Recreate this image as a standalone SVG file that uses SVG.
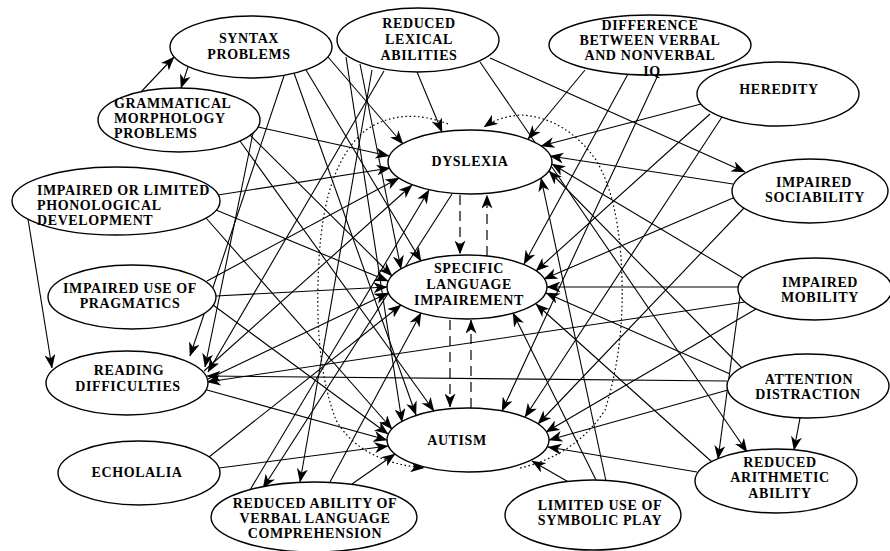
<svg xmlns="http://www.w3.org/2000/svg" width="890" height="551" viewBox="0 0 890 551">
<defs>
<marker id="ah" viewBox="0 0 14 11" refX="13.5" refY="5.5" markerWidth="14" markerHeight="11" markerUnits="userSpaceOnUse" orient="auto">
<path d="M0,0 L14,5.5 L0,11 L4,5.5 z" fill="#000"/>
</marker>
</defs>
<style>
.c line, .c path { stroke:#000; stroke-width:1.1; fill:none; marker-end:url(#ah); }
.c .dash { stroke-dasharray:10,6; stroke-width:1.2; }
.c .dot { stroke-dasharray:1.6,2.6; stroke-width:1.2; }
.n ellipse { fill:#fff; stroke:#000; stroke-width:1.4; }
.n text { font-family:"Liberation Serif","Times New Roman",serif; font-weight:bold; font-size:14px; letter-spacing:0.6px; fill:#000; text-anchor:middle; }
.n text.l { text-anchor:start; }
</style>
<rect width="890" height="551" fill="#fff"/>
<g id="connectors" class="c">
<!-- SYNTAX -->
<line x1="188" y1="67" x2="181" y2="88"/>
<line x1="140" y1="93" x2="174" y2="57"/>
<line x1="328" y1="57" x2="403" y2="144"/>
<line x1="306" y1="70" x2="421" y2="261"/>
<line x1="294" y1="73" x2="416" y2="415"/>
<line x1="284" y1="76" x2="190" y2="356"/>
<!-- GRAMMATICAL -->
<line x1="258" y1="127" x2="389" y2="156"/>
<line x1="250" y1="135" x2="392" y2="276"/>
<line x1="240" y1="141" x2="434" y2="411"/>
<line x1="253" y1="133" x2="205" y2="367"/>
<!-- LEXICAL -->
<line x1="417" y1="72" x2="442" y2="132"/>
<line x1="490" y1="58" x2="745" y2="172"/>
<line x1="360" y1="64" x2="401" y2="269"/>
<line x1="346" y1="57" x2="402" y2="422"/>
<line x1="384" y1="71" x2="208" y2="372"/>
<line x1="372" y1="70" x2="300" y2="482"/>
<line x1="480" y1="62" x2="747" y2="452"/>
<!-- DIFFERENCE IQ -->
<line x1="585" y1="70" x2="528" y2="139"/>
<line x1="628" y1="74" x2="524" y2="264"/>
<line x1="658" y1="75" x2="502" y2="411"/>
<!-- HEREDITY -->
<line x1="701" y1="104" x2="541" y2="146"/>
<line x1="710" y1="114" x2="536" y2="271"/>
<line x1="722" y1="117" x2="525" y2="417"/>
<!-- SOCIABILITY -->
<line x1="733" y1="184" x2="550" y2="156"/>
<line x1="733" y1="198" x2="544" y2="279"/>
<line x1="744" y1="208" x2="538" y2="424"/>
<!-- MOBILITY -->
<line x1="743" y1="278" x2="552" y2="164"/>
<line x1="738" y1="287" x2="547" y2="287"/>
<line x1="745" y1="302" x2="207" y2="382"/>
<line x1="740" y1="296" x2="718" y2="459"/>
<line x1="756" y1="309" x2="546" y2="432"/>
<!-- ATTENTION -->
<line x1="742" y1="368" x2="549" y2="171"/>
<line x1="730" y1="374" x2="546" y2="293"/>
<line x1="727" y1="381" x2="207" y2="376"/>
<line x1="728" y1="390" x2="549" y2="440"/>
<line x1="800" y1="418" x2="794" y2="450"/>
<!-- ARITHMETIC -->
<line x1="712" y1="462" x2="536" y2="304"/>
<line x1="697" y1="472" x2="548" y2="447"/>
<!-- SYMBOLIC PLAY -->
<line x1="572" y1="484" x2="532" y2="461"/>
<line x1="596" y1="480" x2="513" y2="313"/>
<line x1="606" y1="481" x2="541" y2="178"/>
<!-- COMPREHENSION -->
<line x1="352" y1="484" x2="395" y2="454"/>
<line x1="330" y1="482" x2="421" y2="313"/>
<line x1="250" y1="490" x2="429" y2="190"/>
<line x1="452" y1="194" x2="263" y2="488"/>
<!-- ECHOLALIA -->
<line x1="209" y1="457" x2="401" y2="305"/>
<line x1="219" y1="468" x2="388" y2="446"/>
<!-- READING -->
<line x1="204" y1="371" x2="412" y2="185"/>
<line x1="208" y1="379" x2="388" y2="293"/>
<line x1="207" y1="390" x2="387" y2="440"/>
<!-- PRAGMATICS -->
<line x1="207" y1="281" x2="399" y2="178"/>
<line x1="216" y1="296" x2="387" y2="287"/>
<line x1="213" y1="305" x2="388" y2="434"/>
<!-- PHONOLOGICAL -->
<line x1="218" y1="195" x2="390" y2="168"/>
<line x1="216" y1="210" x2="388" y2="281"/>
<line x1="206" y1="218" x2="392" y2="429"/>
<line x1="28" y1="219" x2="52" y2="368"/>
<!-- disorders -->
<line class="dash" x1="460" y1="195" x2="460" y2="254"/>
<line class="dash" x1="487" y1="256" x2="487" y2="195"/>
<line class="dash" x1="450" y1="320" x2="450" y2="407"/>
<line class="dash" x1="471" y1="408" x2="471" y2="320"/>
<path class="dot" d="M448,124 Q402,106 366,130 Q324,164 319,260 Q313,360 336,420 Q360,462 424,468"/>
<path class="dot" d="M520,468 Q576,455 605,410 Q624,350 622,280 Q620,200 596,160 Q566,118 522,115 Q500,116 484,127"/>
</g>
<g id="syntax" class="n"><ellipse cx="251" cy="47" rx="81" ry="31"/><text x="249" y="43">SYNTAX</text><text x="249" y="59">PROBLEMS</text></g>
<g id="grammatical" class="n"><ellipse cx="179" cy="120" rx="81" ry="32"/><text class="l" x="114" y="108">GRAMMATICAL</text><text class="l" x="114" y="123">MORPHOLOGY</text><text class="l" x="114" y="138">PROBLEMS</text></g>
<g id="lexical" class="n"><ellipse cx="418" cy="40" rx="81" ry="32"/><text x="419" y="28">REDUCED</text><text x="419" y="44">LEXICAL</text><text x="419" y="60">ABILITIES</text></g>
<g id="difference" class="n"><ellipse cx="650" cy="45" rx="101" ry="30"/><text x="650" y="30">DIFFERENCE</text><text x="650" y="45">BETWEEN VERBAL</text><text x="650" y="60">AND NONVERBAL</text><text x="652" y="76">IQ</text></g>
<g id="heredity" class="n"><ellipse cx="778" cy="94" rx="81" ry="32"/><text x="779" y="94">HEREDITY</text></g>
<g id="sociability" class="n"><ellipse cx="810" cy="191" rx="78" ry="32"/><text x="814" y="187">IMPAIRED</text><text x="815" y="202">SOCIABILITY</text></g>
<g id="mobility" class="n"><ellipse cx="815" cy="289" rx="77" ry="31"/><text x="820" y="287">IMPAIRED</text><text x="820" y="302">MOBILITY</text></g>
<g id="attention" class="n"><ellipse cx="808" cy="386" rx="81" ry="32"/><text x="809" y="384">ATTENTION</text><text x="808" y="399">DISTRACTION</text></g>
<g id="arithmetic" class="n"><ellipse cx="776" cy="481" rx="81" ry="32"/><text x="780" y="467">REDUCED</text><text x="780" y="482">ARITHMETIC</text><text x="780" y="498">ABILITY</text></g>
<g id="symbolic" class="n"><ellipse cx="593" cy="515" rx="88" ry="35"/><text x="600" y="510">LIMITED USE OF</text><text x="600" y="525">SYMBOLIC PLAY</text></g>
<g id="comprehension" class="n"><ellipse cx="314" cy="517" rx="103" ry="35"/><text x="315" y="508">REDUCED ABILITY OF</text><text x="315" y="523">VERBAL LANGUAGE</text><text x="315" y="538">COMPREHENSION</text></g>
<g id="echolalia" class="n"><ellipse cx="139" cy="473" rx="81" ry="32"/><text x="137" y="477">ECHOLALIA</text></g>
<g id="reading" class="n"><ellipse cx="127" cy="383" rx="81" ry="32"/><text x="129" y="375">READING</text><text x="128" y="391">DIFFICULTIES</text></g>
<g id="pragmatics" class="n"><ellipse cx="132" cy="297" rx="84" ry="32"/><text x="130" y="293">IMPAIRED USE OF</text><text x="130" y="308">PRAGMATICS</text></g>
<g id="phonological" class="n"><ellipse cx="116" cy="201" rx="104" ry="34"/><text class="l" x="37" y="195">IMPAIRED OR LIMITED</text><text class="l" x="37" y="210">PHONOLOGICAL</text><text class="l" x="37" y="225">DEVELOPMENT</text></g>
<g id="dyslexia" class="n"><ellipse cx="470" cy="162" rx="82" ry="32"/><text x="470" y="166">DYSLEXIA</text></g>
<g id="sli" class="n"><ellipse cx="467" cy="287" rx="80" ry="32"/><text x="469" y="273">SPECIFIC</text><text x="469" y="289">LANGUAGE</text><text x="469" y="305">IMPAIREMENT</text></g>
<g id="autism" class="n"><ellipse cx="468" cy="440" rx="81" ry="32"/><text x="457" y="445">AUTISM</text></g>
</svg>
